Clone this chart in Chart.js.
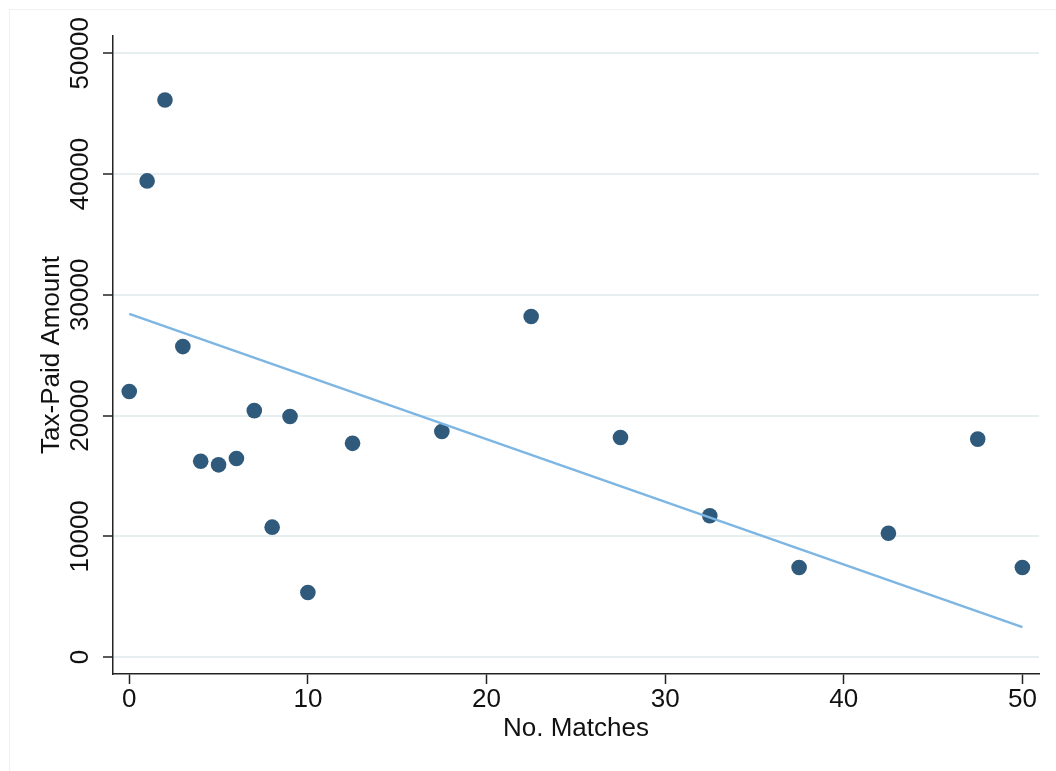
<!DOCTYPE html>
<html lang="en">

<head>
    <meta charset="UTF-8">
    <title>Tax-Paid Amount vs No. Matches</title>
    <script src="https://cdn.jsdelivr.net/npm/chart.js"></script>
    <style>
        body {
            margin: 0;
            background: #ffffff;
            font-family: "Liberation Sans", Arial, sans-serif;
        }

        #frame {
            position: absolute;
            left: 9px;
            top: 9px;
            width: 1100px;
            height: 800px;
            border: 1px solid #edf1f1;
        }

        #wrap {
            position: absolute;
            left: 0;
            top: 0;
            width: 1056px;
            height: 771px;
        }
    </style>
</head>

<body>
    <div id="frame"></div>
    <div id="wrap"><canvas id="scatterChart"></canvas></div>

    <script>
        // number of matches and tax-paid amount
        const matches = [0, 1, 2, 3, 4, 5, 6, 7, 8, 9, 10, 12.5, 17.5, 22.5, 27.5, 32.5, 37.5, 42.5, 47.5, 50];
        const taxPaid = [21990, 39430, 46130, 25710, 16220, 15920, 16440, 20410, 10760, 19920, 5350,
            17700, 18680, 28200, 18180, 11700, 7420, 10260, 18050, 7420];

        // fitted line end points
        const fitX = [0, 50];
        const fitY = [28420, 2480];

        const xTicks = [0, 10, 20, 30, 40, 50];
        const yTicks = [0, 10000, 20000, 30000, 40000, 50000];

        const points = matches.map((m, i) => ({ x: m, y: taxPaid[i] }));
        const fitLine = fitX.map((m, i) => ({ x: m, y: fitY[i] }));

        const fontFamily = '"Liberation Sans", Arial, sans-serif';
        const ink = '#111111';

        const ctx = document.getElementById('scatterChart').getContext('2d');
        new Chart(ctx, {
            type: 'scatter',
            data: {
                datasets: [{
                    label: 'Fitted values',
                    data: fitLine,
                    showLine: true,
                    borderColor: '#7db6e3',
                    borderWidth: 2.5,
                    pointRadius: 0,
                    order: 0
                }, {
                    label: 'Tax-Paid Amount',
                    data: points,
                    backgroundColor: '#2f5a7b',
                    borderColor: '#2f5a7b',
                    pointRadius: 7.8,
                    borderWidth: 0,
                    order: 1
                }]
            },
            options: {
                responsive: true,
                maintainAspectRatio: false,
                animation: false,
                layout: {
                    padding: { top: 36, right: 17, left: 0, bottom: 0 }
                },
                plugins: {
                    legend: { display: false },
                    tooltip: { enabled: false }
                },
                scales: {
                    x: {
                        type: 'linear',
                        min: -0.91,
                        max: 50.93,
                        afterFit: s => { s.height = 97; },
                        afterBuildTicks: s => { s.ticks = xTicks.map(v => ({ value: v })); },
                        ticks: {
                            color: ink,
                            font: { family: fontFamily, size: 26 },
                            padding: 0,
                            maxRotation: 0,
                            includeBounds: false,
                            callback: v => String(v)
                        },
                        grid: {
                            drawOnChartArea: false,
                            tickLength: 10,
                            tickColor: '#222',
                            tickWidth: 1.5
                        },
                        border: { color: '#222', width: 1.5 },
                        title: {
                            display: true,
                            text: 'No. Matches',
                            color: ink,
                            font: { family: fontFamily, size: 26 },
                            padding: { top: 0, bottom: 27 }
                        }
                    },
                    y: {
                        type: 'linear',
                        min: -1400,
                        max: 51430,
                        afterFit: s => { s.width = 113; },
                        afterBuildTicks: s => { s.ticks = yTicks.map(v => ({ value: v })); },
                        ticks: {
                            color: ink,
                            font: { family: fontFamily, size: 26 },
                            minRotation: 90,
                            maxRotation: 90,
                            crossAlign: 'center',
                            padding: -14,
                            includeBounds: false,
                            callback: v => String(v)
                        },
                        grid: {
                            color: '#e7eef0',
                            lineWidth: 2,
                            tickLength: 10,
                            tickColor: '#222',
                            tickWidth: 1.5
                        },
                        border: { color: '#222', width: 1.5 },
                        title: {
                            display: true,
                            text: 'Tax-Paid Amount',
                            color: ink,
                            font: { family: fontFamily, size: 26 },
                            padding: { top: 36, bottom: 0 }
                        }
                    }
                }
            }
        });
    </script>
</body>

</html>
